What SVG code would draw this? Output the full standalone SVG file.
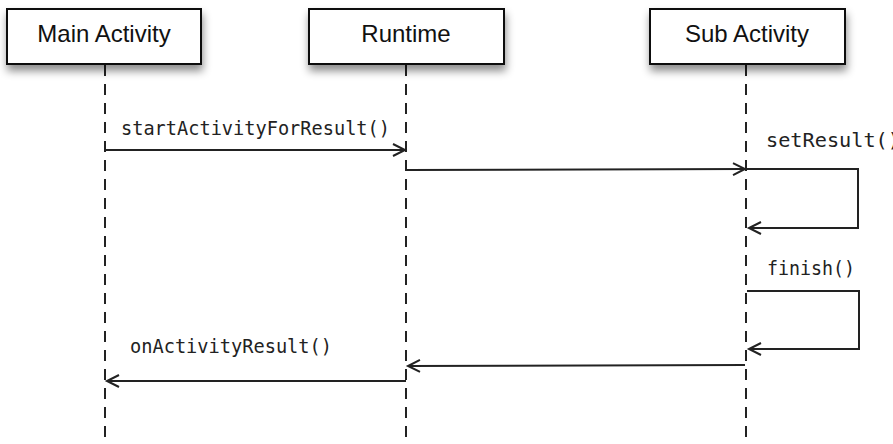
<svg xmlns="http://www.w3.org/2000/svg" width="893" height="444" viewBox="0 0 893 444">
<style>
.box{fill:#fff;stroke:#111;stroke-width:2}
.title{font-family:"Liberation Sans",Arial,sans-serif;font-size:24px;fill:#111;text-anchor:middle}
.life{stroke:#222;stroke-width:2;stroke-dasharray:11 8;fill:none}
.msg{stroke:#222;stroke-width:2;fill:none;marker-end:url(#arr)}
.lbl{font-family:"DejaVu Sans Mono","Liberation Mono",monospace;font-size:19px;fill:#222}
</style>
<defs>
<filter id="sh" x="-20%" y="-30%" width="140%" height="180%">
<feDropShadow dx="1" dy="6" stdDeviation="4" flood-color="#000" flood-opacity="0.45"/>
</filter>
<marker id="arr" markerUnits="userSpaceOnUse" markerWidth="16" markerHeight="16" refX="13" refY="7" orient="auto">
<path d="M1,1 L13,7 L1,13" fill="none" stroke="#222" stroke-width="2"/>
</marker>
</defs>
<g id="lifelines">
<line class="life" x1="105" y1="65" x2="105" y2="444"/>
<line class="life" x1="406" y1="65" x2="406" y2="444"/>
<line class="life" x1="746" y1="65" x2="746" y2="444"/>
</g>
<g id="main">
<rect class="box" x="7" y="9" width="194" height="55" filter="url(#sh)"/>
<text class="title" x="104" y="42">Main Activity</text>
</g>
<g id="runtime">
<rect class="box" x="309" y="9" width="195" height="55" filter="url(#sh)"/>
<text class="title" x="406" y="42">Runtime</text>
</g>
<g id="sub">
<rect class="box" x="650" y="9" width="195" height="55" filter="url(#sh)"/>
<text class="title" x="747" y="42">Sub Activity</text>
</g>
<g id="connectors">
<line class="msg" x1="106" y1="150" x2="405" y2="150"/>
<line class="msg" x1="407" y1="170" x2="745" y2="169"/>
<path class="msg" d="M747,169 H858 V228 H749"/>
<path class="msg" d="M747,291 H859 V349 H749"/>
<line class="msg" x1="745" y1="365" x2="408" y2="366"/>
<line class="msg" x1="406" y1="381" x2="107" y2="381"/>
</g>
<g id="labels">
<text class="lbl" x="121" y="135" textLength="269" lengthAdjust="spacingAndGlyphs">startActivityForResult()</text>
<text class="lbl" x="766" y="147" textLength="134" lengthAdjust="spacingAndGlyphs">setResult()</text>
<text class="lbl" x="767" y="275" textLength="88" lengthAdjust="spacingAndGlyphs">finish()</text>
<text class="lbl" x="130" y="353" textLength="202" lengthAdjust="spacingAndGlyphs">onActivityResult()</text>
</g>
</svg>
